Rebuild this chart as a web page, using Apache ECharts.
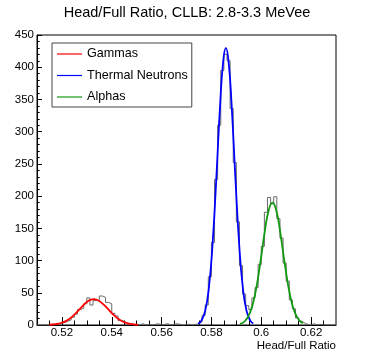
<!DOCTYPE html>
<html><head><meta charset="utf-8">
<script src="https://cdn.jsdelivr.net/npm/echarts@6/dist/echarts.min.js"></script>
<style>html,body{margin:0;padding:0;background:#fff}#c{width:374px;height:361px}</style>
</head><body><div id="c"></div>
<script>
const titleText = 'Head/Full Ratio, CLLB: 2.8-3.3 MeVee';
const xAxisTitle = 'Head/Full Ratio';
const seriesNames = ['Gammas', 'Thermal Neutrons', 'Alphas'];

// histogram binning: 0.51 .. 0.63
const histMin = 0.51;
const binWidth = 0.00125;
const histCounts = [
  0, 0, 0, 0, 1, 0, 2, 3, 4, 6,
  8, 12, 17, 24, 26, 33, 42, 31, 38, 37,
  45, 43, 35, 33, 18, 14, 7, 6, 3, 2,
  1, 1, 0, 2, 0, 1, 0, 1, 2, 0,
  1, 2, 0, 1, 2, 1, 0, 1, 1, 0,
  1, 2, 5, 15, 31, 75, 128, 226, 310, 395,
  420, 410, 336, 252, 160, 92, 48, 30, 24, 42,
  58, 94, 122, 175, 198, 188, 199, 165, 135, 96,
  68, 39, 25, 11, 6, 3, 1, 0, 2, 0,
  1, 0, 0, 0, 0, 0
];

// fitted curves
const gammaFitX = [0.5150, 0.5175, 0.5200, 0.5225, 0.5250, 0.5275, 0.5300, 0.5315, 0.5328, 0.5340, 0.5355, 0.5380, 0.5405, 0.5430, 0.5455, 0.5480, 0.5505];
const gammaFitY = [0.4, 1.2, 3.5, 8.3, 16.2, 26.3, 35.6, 39.0, 40.0, 39.2, 35.9, 26.8, 16.6, 8.5, 3.6, 1.3, 0.4];

const neutronFitX = [0.5747, 0.5760, 0.5775, 0.5790, 0.5805, 0.5820, 0.5835, 0.5847, 0.5858, 0.5869, 0.5881, 0.5896, 0.5911, 0.5926, 0.5941, 0.5956, 0.5968];
const neutronFitY = [2.1, 6.8, 21.9, 58.2, 127.6, 230.3, 342, 408, 430, 408, 342, 230.3, 127.6, 58.2, 21.9, 6.8, 2.3];

const alphaFitX = [0.5915, 0.5935, 0.5955, 0.5975, 0.5995, 0.6015, 0.6030, 0.6045, 0.6060, 0.6075, 0.6095, 0.6115, 0.6135, 0.6155, 0.6167];
const alphaFitY = [1.6, 6.2, 19.1, 47.4, 93.5, 147.2, 178.2, 190, 178.2, 147.2, 93.5, 47.4, 19.1, 6.2, 2.8];

const xMajorTicks = [0.52, 0.54, 0.56, 0.58, 0.60, 0.62];
const xMinorTicks = [0.515, 0.525, 0.53, 0.535, 0.545, 0.55, 0.555, 0.565, 0.57, 0.575, 0.585, 0.59, 0.595, 0.605, 0.61, 0.615, 0.625];

const FONT = 'Liberation Sans';
const chart = echarts.init(document.getElementById('c'), null, {renderer: 'canvas'});

const histData = histCounts.map((c, i) => [+(histMin + i * binWidth).toFixed(6), c]);
histData.push([+(histMin + histCounts.length * binWidth).toFixed(6), histCounts[histCounts.length - 1]]);
const zip = (xs, ys) => xs.map((x, i) => [x, ys[i]]);

const fitSeries = (name, xs, ys, color) => ({
  type: 'line', name: name, data: zip(xs, ys), smooth: 0.5, symbol: 'none',
  color: color, lineStyle: {color: color, width: 1.8}, z: 3, silent: true
});

chart.setOption({
  animation: false,
  title: {text: titleText, left: 'center', top: 5, padding: 0,
    textStyle: {fontSize: 14.5, fontWeight: 'normal', fontFamily: FONT, color: '#000'}},
  legend: {
    orient: 'vertical', left: 52, top: 43, padding: [4, 4, 3, 5], itemGap: 7.5,
    itemWidth: 25, itemHeight: 1.2, icon: 'rect',
    borderColor: '#444', borderWidth: 1, backgroundColor: '#fff',
    textStyle: {fontSize: 12.6, lineHeight: 14, fontFamily: FONT, color: '#000'},
    data: seriesNames, selectedMode: false
  },
  grid: {left: 37, right: 38, top: 35, bottom: 36, show: true, borderColor: '#000', borderWidth: 1, backgroundColor: 'transparent'},
  xAxis: [{
    type: 'value', min: 0.51, max: 0.63,
    axisLine: {onZero: false, lineStyle: {color: '#000', width: 1}},
    axisTick: {inside: true, length: 8, customValues: xMajorTicks, lineStyle: {color: '#000'}},
    axisLabel: {customValues: xMajorTicks, formatter: v => String(+(+v).toFixed(2)), fontSize: 11.5, fontFamily: FONT, color: '#000', margin: 2},
    splitLine: {show: false}
  }, {
    type: 'value', min: 0.51, max: 0.63, position: 'bottom', offset: 0,
    axisLine: {show: false, onZero: false},
    axisTick: {inside: true, length: 4.5, customValues: xMinorTicks, lineStyle: {color: '#000'}},
    axisLabel: {show: false}, splitLine: {show: false}
  }],
  yAxis: {
    type: 'value', min: 0, max: 450, interval: 50,
    axisLine: {show: true, lineStyle: {color: '#000'}},
    axisTick: {show: true, inside: true, length: 5, lineStyle: {color: '#000'}},
    minorTick: {show: true, splitNumber: 5, length: 2.7, lineStyle: {color: '#000'}},
    axisLabel: {fontSize: 11.5, fontFamily: FONT, color: '#000', margin: 3},
    splitLine: {show: false}
  },
  graphic: [{
    type: 'text', x: 336, y: 346, z: 10,
    style: {text: xAxisTitle, align: 'right', verticalAlign: 'middle', fontSize: 11.5, fontFamily: FONT, fill: '#000'}
  }],
  series: [
    {type: 'line', name: 'hist', data: histData, step: 'end', symbol: 'none',
      lineStyle: {color: '#6a6a6a', width: 1}, color: '#6a6a6a', z: 2, silent: true},
    fitSeries(seriesNames[0], gammaFitX, gammaFitY, '#ff0000'),
    fitSeries(seriesNames[1], neutronFitX, neutronFitY, '#0000ff'),
    fitSeries(seriesNames[2], alphaFitX, alphaFitY, '#119911')
  ]
});
</script></body></html>
